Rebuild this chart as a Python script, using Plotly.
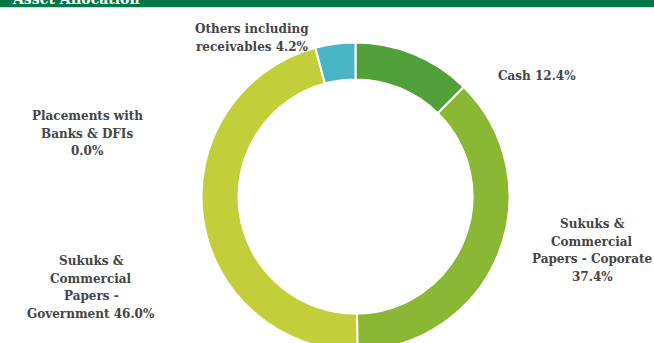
import plotly.graph_objects as go

# Asset allocation data (share of fund, %)
categories = [
    "Cash",
    "Sukuks & Commercial Papers - Coporate",
    "Sukuks & Commercial Papers - Government",
    "Placements with Banks & DFIs",
    "Others including receivables",
]
values = [12.4, 37.4, 46.0, 0.0, 4.2]
colors = ["#52a03a", "#8bb834", "#c3cf3a", "#7fb2d6", "#4ab5c4"]

# Label text layout; "|" splits lines, {v} is the formatted value
label_templates = [
    "Cash {v}",
    "Sukuks &|Commercial|Papers - Coporate|{v}",
    "Sukuks &|Commercial|Papers -|Government {v}",
    "Placements with|Banks & DFIs|{v}",
    "Others including|receivables {v}",
]
# centre x and first-line y of each label block, in pixels
label_pos = [(537, 76), (592, 224), (91, 261), (87, 116), (252, 29)]

W, H = 654, 352
LINE = 17.6
TEXT_COLOR = "#454545"
FONT = "DejaVu Serif"

cx, cy, R = 355.5, 196.5, 154.0

fig = go.Figure(
    go.Pie(
        labels=categories,
        values=values,
        hole=0.76,
        sort=False,
        direction="clockwise",
        rotation=0,
        marker=dict(colors=colors, line=dict(color="white", width=2)),
        textinfo="none",
        hoverinfo="label+percent",
        showlegend=False,
        domain=dict(
            x=[(cx - R) / W, (cx + R) / W],
            y=[(H - (cy + R)) / H, (H - (cy - R)) / H],
        ),
    )
)

annotations = []
for tmpl, v, (px, py) in zip(label_templates, values, label_pos):
    lines = tmpl.format(v=f"{v:.1f}%").split("|")
    for i, line in enumerate(lines):
        annotations.append(
            dict(
                text=f"<b>{line}</b>",
                x=px / W,
                y=1 - (py + i * LINE) / H,
                xref="paper",
                yref="paper",
                xanchor="center",
                yanchor="middle",
                showarrow=False,
                font=dict(family=FONT, size=12, color=TEXT_COLOR),
            )
        )

# Section title in the header band
annotations.append(
    dict(
        text="<b>Asset Allocation</b>",
        x=10 / W,
        y=1 - 9 / H,
        xref="paper",
        yref="paper",
        xanchor="left",
        yanchor="bottom",
        showarrow=False,
        font=dict(family=FONT, size=14, color="white"),
    )
)

fig.update_layout(
    width=W,
    height=H,
    margin=dict(l=0, r=0, t=0, b=0),
    paper_bgcolor="white",
    plot_bgcolor="white",
    shapes=[
        dict(
            type="rect",
            xref="paper",
            yref="paper",
            x0=0,
            x1=1,
            y0=1 - 7.3 / H,
            y1=1,
            fillcolor="#007848",
            line=dict(width=0),
            layer="below",
        )
    ],
    annotations=annotations,
)

fig.write_html(
    "out.html",
    post_script="document.body.style.margin='0';document.body.style.overflow='hidden';document.documentElement.style.overflow='hidden';",
)
